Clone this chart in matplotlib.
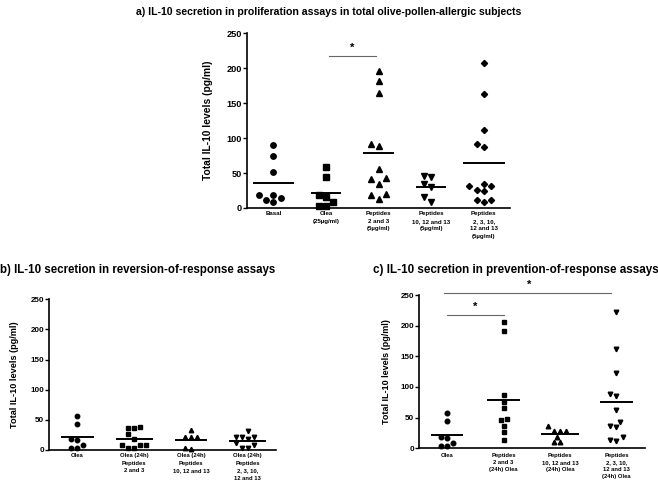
import numpy as np
import matplotlib
matplotlib.use("Agg")
from matplotlib import pyplot as plt

plt.rcParams['font.family'] = ['Liberation Sans', 'DejaVu Sans']
plt.rcParams['font.weight'] = 'bold'

# panel a) proliferation assays
a_labels = ["Basal", "Olea\n(25µg/ml)", "Peptides\n2 and 3\n(5µg/ml)",
            "Peptides\n10, 12 and 13\n(5µg/ml)", "Peptides\n2, 3, 10,\n12 and 13\n(5µg/ml)"]
a_basal = [90, 75, 51, 19, 14, 8, 12, 18]
a_olea = [58, 44, 19, 16, 9, 3, 3]
a_pep23 = [196, 181, 165, 91, 88, 56, 42, 43, 35, 20, 18, 13]
a_pep101213 = [44, 46, 34, 30, 16, 9]
a_pepall = [207, 163, 111, 87, 91, 32, 26, 24, 31, 35, 11, 8, 11]

# panel b) reversion-of-response assays
b_labels = ["Olea", "Olea (24h)\nPeptides\n2 and 3", "Olea (24h)\nPeptides\n10, 12 and 13",
            "Olea (24h)\nPeptides\n2, 3, 10,\n12 and 13"]
b_olea = [57, 43, 18, 16, 8, 3, 3]
b_pep23 = [38, 37, 37, 26, 18, 9, 8, 3, 3, 9]
b_pep101213 = [33, 21, 21, 21, 2, 3]
b_pepall = [32, 21, 21, 21, 18, 8, 4, 4, 11]

# panel c) prevention-of-response assays
c_labels = ["Olea", "Peptides\n2 and 3\n(24h) Olea", "Peptides\n10, 12 and 13\n(24h) Olea",
            "Peptides\n2, 3, 10,\n12 and 13\n(24h) Olea"]
c_olea = [58, 44, 19, 16, 9, 3, 3]
c_pep23 = [206, 191, 87, 76, 65, 47, 46, 37, 26, 13]
c_pep101213 = [36, 28, 28, 28, 19, 10, 10]
c_pepall = [223, 162, 123, 89, 85, 63, 43, 37, 34, 19, 12, 13]

markers = ['o', 's', '^', 'v', 'D']


def swarm(vals, ypx, xpx, dist):
    # column-scatter placement, worked out in pixels
    placed = []
    offs = [0.0] * len(vals)
    for i in np.argsort(vals):
        y = vals[i] * ypx
        k = 0
        while True:
            cands = [0] if k == 0 else [-k * 0.5, k * 0.5]
            ok = None
            for c in cands:
                x = c * dist
                if all((x - px) ** 2 + (y - py) ** 2 >= dist ** 2 for px, py in placed):
                    ok = x
                    break
            if ok is not None:
                placed.append((ok, y))
                offs[i] = ok / xpx
                break
            k += 1
    return offs


def panel(ax, groups, labels, mks, ypx, xpx, ms, xfs, lsp, xpad, yfs):
    for i, (vals, m) in enumerate(zip(groups, mks)):
        s = ms * 0.8 if m == 'D' else ms
        offs = swarm(vals, ypx, xpx, ms * 1.39 * 1.35)
        ax.plot(np.array(offs) + i, vals, linestyle='none', marker=m, color='black',
                markersize=s, clip_on=False)
        hw = max(0.27, max(abs(o) for o in offs) + 0.1)
        ax.plot([i - hw, i + hw], [np.mean(vals)] * 2, color='black', lw=1.4)
    ax.set_xlim(-0.5, len(groups) - 0.5)
    ax.set_ylim(0, 250)
    ax.set_yticks([0, 50, 100, 150, 200, 250])
    ax.set_xticks(range(len(groups)))
    ax.set_xticklabels(labels, fontsize=xfs, fontweight='bold', linespacing=lsp)
    ax.tick_params(axis='x', length=0, pad=xpad)
    ax.tick_params(axis='y', length=3, width=1, labelsize=yfs, pad=0.5)
    for sp in ['top', 'right']:
        ax.spines[sp].set_visible(False)
    for sp in ['left', 'bottom']:
        ax.spines[sp].set_linewidth(1.2)


fig = plt.figure(figsize=(6.58, 4.82), dpi=100)

ax1 = fig.add_axes([0.3754, 0.5685, 0.400, 0.3625])
panel(ax1, [a_basal, a_olea, a_pep23, a_pep101213, a_pepall], a_labels, markers,
      174 / 250, 53, 3.9, 4.4, 1.6, 2.5, 6.6)
ax1.set_ylabel("Total IL-10 levels (pg/ml)", fontsize=7.4, fontweight='bold', labelpad=10)
ax1.plot([1.05, 1.95], [217, 217], color='#666666', lw=0.8, clip_on=False)
ax1.text(1.5, 222, "*", ha='center', va='bottom', fontsize=8)
fig.text(0.5, 0.975, "a) IL-10 secretion in proliferation assays in total olive-pollen-allergic subjects",
         ha='center', va='center', fontsize=7.6, fontweight='bold')

ax2 = fig.add_axes([0.0745, 0.0664, 0.345, 0.3126])
panel(ax2, [b_olea, b_pep23, b_pep101213, b_pepall], b_labels, ['o', 's', '^', 'v'],
      151 / 250, 57, 3.2, 4.2, 1.7, 2.0, 5.75)
ax2.set_ylabel("Total IL-10 levels (pg/ml)", fontsize=6.6, fontweight='bold', labelpad=8)
fig.text(0.0, 0.44, "b) IL-10 secretion in reversion-of-response assays",
         ha='left', va='center', fontsize=8.3, fontweight='bold')

ax3 = fig.add_axes([0.6368, 0.0699, 0.343, 0.318])
panel(ax3, [c_olea, c_pep23, c_pep101213, c_pepall], c_labels, ['o', 's', '^', 'v'],
      153 / 250, 56.5, 3.3, 4.2, 1.45, 3.5, 5.75)
ax3.set_ylabel("Total IL-10 levels (pg/ml)", fontsize=6.5, fontweight='bold', labelpad=7)
ax3.plot([0.0, 1.0], [218, 218], color='#666666', lw=0.8, clip_on=False)
ax3.text(0.5, 223, "*", ha='center', va='bottom', fontsize=8)
ax3.plot([-0.05, 2.9], [254, 254], color='#666666', lw=0.8, clip_on=False)
ax3.text(1.45, 259, "*", ha='center', va='bottom', fontsize=8)
fig.text(0.567, 0.44, "c) IL-10 secretion in prevention-of-response assays",
         ha='left', va='center', fontsize=8.4, fontweight='bold')

fig.savefig("out.png", dpi=100)
